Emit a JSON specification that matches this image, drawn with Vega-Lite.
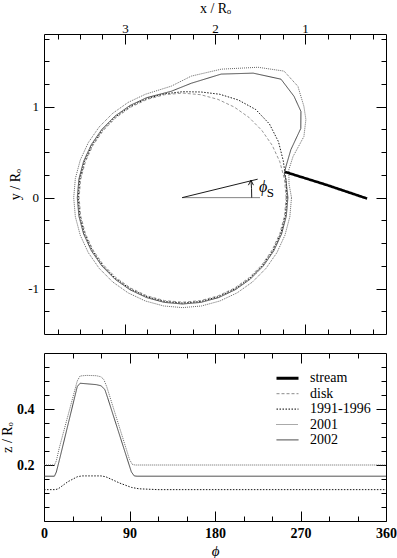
{
  "$schema": "https://vega.github.io/schema/vega-lite/v6.json",
  "padding": {"left": 0, "top": 0, "right": 0, "bottom": 0},
  "spacing": 17,
  "background": "white",
  "config": {
    "view": {"stroke": "black", "strokeWidth": 1},
    "axis": {"domain": false, "grid": false, "tickColor": "black", "tickWidth": 1, "labelFont": "Liberation Serif", "labelFontSize": 13, "labelColor": "black", "labelFlush": false, "labelOverlap": false, "labelBound": false, "titleFont": "Liberation Serif", "titleFontSize": 14, "titleFontWeight": "normal", "titleColor": "black"},
    "text": {"font": "Liberation Serif"}
  },
  "datasets": {
    "top": [
      {"series":"disk","ord":0,"x":1.21,"y":0},{"series":"disk","ord":10,"x":1.2275,"y":0.1996},{"series":"disk","ord":20,"x":1.2793,"y":0.3933},{"series":"disk","ord":30,"x":1.3641,"y":0.575},{"series":"disk","ord":40,"x":1.4791,"y":0.7392},{"series":"disk","ord":50,"x":1.6208,"y":0.8809},{"series":"disk","ord":60,"x":1.785,"y":0.9959},{"series":"disk","ord":70,"x":1.9667,"y":1.0807},{"series":"disk","ord":80,"x":2.1604,"y":1.1325},{"series":"disk","ord":90,"x":2.36,"y":1.15},{"series":"disk","ord":100,"x":2.5596,"y":1.1325},{"series":"disk","ord":110,"x":2.7533,"y":1.0807},{"series":"disk","ord":120,"x":2.935,"y":0.9959},{"series":"disk","ord":130,"x":3.0992,"y":0.8809},{"series":"disk","ord":140,"x":3.2409,"y":0.7392},{"series":"disk","ord":150,"x":3.3559,"y":0.575},{"series":"disk","ord":160,"x":3.4407,"y":0.3933},{"series":"disk","ord":170,"x":3.4925,"y":0.1996},{"series":"disk","ord":180,"x":3.51,"y":0},{"series":"disk","ord":190,"x":3.4925,"y":-0.1996},{"series":"disk","ord":200,"x":3.4407,"y":-0.3933},{"series":"disk","ord":210,"x":3.3559,"y":-0.575},{"series":"disk","ord":220,"x":3.2409,"y":-0.7392},{"series":"disk","ord":230,"x":3.0992,"y":-0.8809},{"series":"disk","ord":240,"x":2.935,"y":-0.9959},{"series":"disk","ord":250,"x":2.7533,"y":-1.0807},{"series":"disk","ord":260,"x":2.5596,"y":-1.1325},{"series":"disk","ord":270,"x":2.36,"y":-1.15},{"series":"disk","ord":280,"x":2.1604,"y":-1.1325},{"series":"disk","ord":290,"x":1.9667,"y":-1.0807},{"series":"disk","ord":300,"x":1.785,"y":-0.9959},{"series":"disk","ord":310,"x":1.6208,"y":-0.8809},{"series":"disk","ord":320,"x":1.4791,"y":-0.7392},{"series":"disk","ord":330,"x":1.3641,"y":-0.575},{"series":"disk","ord":340,"x":1.2793,"y":-0.3933},{"series":"disk","ord":350,"x":1.2275,"y":-0.1996},{"series":"disk","ord":360,"x":1.21,"y":0},

      {"series":"1991-1996","ord":0,"x":1.2,"y":0},{"series":"1991-1996","ord":10,"x":1.2127,"y":0.2022},{"series":"1991-1996","ord":20,"x":1.2418,"y":0.407},{"series":"1991-1996","ord":30,"x":1.2948,"y":0.615},{"series":"1991-1996","ord":40,"x":1.3948,"y":0.8099},{"series":"1991-1996","ord":50,"x":1.5469,"y":0.969},{"series":"1991-1996","ord":60,"x":1.74,"y":1.0738},{"series":"1991-1996","ord":70,"x":1.9462,"y":1.137},{"series":"1991-1996","ord":80,"x":2.1552,"y":1.1621},{"series":"1991-1996","ord":90,"x":2.36,"y":1.165},{"series":"1991-1996","ord":100,"x":2.5614,"y":1.1424},{"series":"1991-1996","ord":110,"x":2.7567,"y":1.09},{"series":"1991-1996","ord":120,"x":2.94,"y":1.0046},{"series":"1991-1996","ord":130,"x":3.1056,"y":0.8886},{"series":"1991-1996","ord":140,"x":3.2486,"y":0.7456},{"series":"1991-1996","ord":150,"x":3.3646,"y":0.58},{"series":"1991-1996","ord":160,"x":3.45,"y":0.3967},{"series":"1991-1996","ord":170,"x":3.5024,"y":0.2014},{"series":"1991-1996","ord":180,"x":3.52,"y":0},{"series":"1991-1996","ord":190,"x":3.5024,"y":-0.2014},{"series":"1991-1996","ord":200,"x":3.45,"y":-0.3967},{"series":"1991-1996","ord":210,"x":3.3646,"y":-0.58},{"series":"1991-1996","ord":220,"x":3.2486,"y":-0.7456},{"series":"1991-1996","ord":230,"x":3.1056,"y":-0.8886},{"series":"1991-1996","ord":240,"x":2.94,"y":-1.0046},{"series":"1991-1996","ord":250,"x":2.7567,"y":-1.09},{"series":"1991-1996","ord":260,"x":2.5614,"y":-1.1424},{"series":"1991-1996","ord":270,"x":2.36,"y":-1.16},{"series":"1991-1996","ord":280,"x":2.1586,"y":-1.1424},{"series":"1991-1996","ord":290,"x":1.9633,"y":-1.09},{"series":"1991-1996","ord":300,"x":1.78,"y":-1.0046},{"series":"1991-1996","ord":310,"x":1.6144,"y":-0.8886},{"series":"1991-1996","ord":320,"x":1.4714,"y":-0.7456},{"series":"1991-1996","ord":330,"x":1.3554,"y":-0.58},{"series":"1991-1996","ord":340,"x":1.27,"y":-0.3967},{"series":"1991-1996","ord":350,"x":1.2176,"y":-0.2014},{"series":"1991-1996","ord":360,"x":1.2,"y":0},

      {"series":"2002","ord":0,"x":1.19,"y":0},{"series":"2002","ord":10,"x":1.2127,"y":0.2022},{"series":"2002","ord":13.1,"x":1.2302,"y":0.263},{"series":"2002","ord":16.5,"x":1.2123,"y":0.34},{"series":"2002","ord":23.7,"x":1.1568,"y":0.5281},{"series":"2002","ord":30.1,"x":1.0466,"y":0.7613},{"series":"2002","ord":35.8,"x":1.0452,"y":0.9483},{"series":"2002","ord":42,"x":1.122,"y":1.1147},{"series":"2002","ord":50,"x":1.2666,"y":1.303},{"series":"2002","ord":60.2,"x":1.5757,"y":1.3694},{"series":"2002","ord":72.5,"x":1.9315,"y":1.359},{"series":"2002","ord":85.6,"x":2.2632,"y":1.2583},{"series":"2002","ord":96.1,"x":2.4851,"y":1.1703},{"series":"2002","ord":110,"x":2.7601,"y":1.0994},{"series":"2002","ord":120,"x":2.945,"y":1.0132},{"series":"2002","ord":130,"x":3.1121,"y":0.8962},{"series":"2002","ord":140,"x":3.2562,"y":0.7521},{"series":"2002","ord":150,"x":3.3732,"y":0.585},{"series":"2002","ord":160,"x":3.4594,"y":0.4001},{"series":"2002","ord":170,"x":3.5122,"y":0.2031},{"series":"2002","ord":180,"x":3.53,"y":0},{"series":"2002","ord":190,"x":3.5122,"y":-0.2031},{"series":"2002","ord":200,"x":3.4594,"y":-0.4001},{"series":"2002","ord":210,"x":3.3732,"y":-0.585},{"series":"2002","ord":220,"x":3.2562,"y":-0.7521},{"series":"2002","ord":230,"x":3.1121,"y":-0.8962},{"series":"2002","ord":240,"x":2.945,"y":-1.0132},{"series":"2002","ord":250,"x":2.7601,"y":-1.0994},{"series":"2002","ord":260,"x":2.5631,"y":-1.1522},{"series":"2002","ord":270,"x":2.36,"y":-1.17},{"series":"2002","ord":280,"x":2.1569,"y":-1.1522},{"series":"2002","ord":290,"x":1.9599,"y":-1.0994},{"series":"2002","ord":300,"x":1.775,"y":-1.0132},{"series":"2002","ord":310,"x":1.6079,"y":-0.8962},{"series":"2002","ord":320,"x":1.4638,"y":-0.7521},{"series":"2002","ord":330,"x":1.3468,"y":-0.585},{"series":"2002","ord":340,"x":1.2606,"y":-0.4001},{"series":"2002","ord":350,"x":1.2078,"y":-0.2031},{"series":"2002","ord":360,"x":1.19,"y":0},

      {"series":"2001","ord":0,"x":1.15,"y":0},{"series":"2001","ord":7.3,"x":1.1777,"y":0.1515},{"series":"2001","ord":14.6,"x":1.1794,"y":0.3076},{"series":"2001","ord":20.2,"x":1.1334,"y":0.4513},{"series":"2001","ord":26.5,"x":1.0123,"y":0.672},{"series":"2001","ord":32.1,"x":0.9902,"y":0.8593},{"series":"2001","ord":36.7,"x":1.0122,"y":1.0046},{"series":"2001","ord":43.7,"x":1.0788,"y":1.2243},{"series":"2001","ord":51,"x":1.2329,"y":1.3918},{"series":"2001","ord":59.7,"x":1.522,"y":1.4341},{"series":"2001","ord":73.1,"x":1.9306,"y":1.4132},{"series":"2001","ord":85.9,"x":2.2642,"y":1.3365},{"series":"2001","ord":95.8,"x":2.4847,"y":1.2267},{"series":"2001","ord":110,"x":2.7738,"y":1.137},{"series":"2001","ord":120,"x":2.965,"y":1.0479},{"series":"2001","ord":130,"x":3.1378,"y":0.9268},{"series":"2001","ord":140,"x":3.2868,"y":0.7778},{"series":"2001","ord":150,"x":3.4079,"y":0.605},{"series":"2001","ord":160,"x":3.497,"y":0.4138},{"series":"2001","ord":170,"x":3.5516,"y":0.2101},{"series":"2001","ord":180,"x":3.57,"y":0},{"series":"2001","ord":190,"x":3.5516,"y":-0.2101},{"series":"2001","ord":200,"x":3.497,"y":-0.4138},{"series":"2001","ord":210,"x":3.4079,"y":-0.605},{"series":"2001","ord":220,"x":3.2868,"y":-0.7778},{"series":"2001","ord":230,"x":3.1378,"y":-0.9268},{"series":"2001","ord":240,"x":2.965,"y":-1.0479},{"series":"2001","ord":250,"x":2.7738,"y":-1.137},{"series":"2001","ord":260,"x":2.5701,"y":-1.1916},{"series":"2001","ord":270,"x":2.36,"y":-1.21},{"series":"2001","ord":280,"x":2.1499,"y":-1.1916},{"series":"2001","ord":290,"x":1.9462,"y":-1.137},{"series":"2001","ord":300,"x":1.755,"y":-1.0479},{"series":"2001","ord":310,"x":1.5822,"y":-0.9268},{"series":"2001","ord":320,"x":1.4332,"y":-0.7778},{"series":"2001","ord":330,"x":1.3121,"y":-0.605},{"series":"2001","ord":340,"x":1.223,"y":-0.4138},{"series":"2001","ord":350,"x":1.1684,"y":-0.2101},{"series":"2001","ord":360,"x":1.15,"y":0}
    ],
    "stream": [
      {"series":"stream","ord":0,"x":1.222,"y":0.283},
      {"series":"stream","ord":1,"x":0.77,"y":0.143},
      {"series":"stream","ord":2,"x":0.31,"y":-0.01}
    ],
    "marker": [
      {"seg":"ray","ord":0,"x":2.365,"y":0},{"seg":"ray","ord":1,"x":1.526,"y":0.203},
      {"seg":"arc","ord":0,"x":1.592,"y":0},{"seg":"arc","ord":1,"x":1.594,"y":0.1},{"seg":"arc","ord":2,"x":1.6,"y":0.19},
      {"seg":"head","ord":0,"x":1.629,"y":0.137},{"seg":"head","ord":1,"x":1.6,"y":0.192},{"seg":"head","ord":2,"x":1.573,"y":0.137}
    ],
    "base": [
      {"ord":0,"x":2.365,"y":0},{"ord":1,"x":1.5,"y":0}
    ],
    "labels": [
      {"t":"ϕ","x":1.464,"y":0.118}
    ],
    "sub": [
      {"t":"S","x":1.385,"y":0.055}
    ],
    "bottom": [
      {"series":"2001","phi":0,"z":0.2},{"series":"2001","phi":11,"z":0.2},{"series":"2001","phi":13,"z":0.215},{"series":"2001","phi":16,"z":0.26},{"series":"2001","phi":35,"z":0.5},{"series":"2001","phi":38,"z":0.518},{"series":"2001","phi":45,"z":0.52},{"series":"2001","phi":55,"z":0.519},{"series":"2001","phi":60,"z":0.515},{"series":"2001","phi":63,"z":0.505},{"series":"2001","phi":66,"z":0.48},{"series":"2001","phi":90,"z":0.22},{"series":"2001","phi":93,"z":0.202},{"series":"2001","phi":96,"z":0.2},{"series":"2001","phi":360,"z":0.2},
      {"series":"2002","phi":0,"z":0.16},{"series":"2002","phi":11,"z":0.16},{"series":"2002","phi":13,"z":0.175},{"series":"2002","phi":16,"z":0.215},{"series":"2002","phi":35,"z":0.48},{"series":"2002","phi":38,"z":0.492},{"series":"2002","phi":45,"z":0.49},{"series":"2002","phi":55,"z":0.487},{"series":"2002","phi":60,"z":0.483},{"series":"2002","phi":64,"z":0.47},{"series":"2002","phi":67,"z":0.44},{"series":"2002","phi":92,"z":0.175},{"series":"2002","phi":95,"z":0.161},{"series":"2002","phi":98,"z":0.16},{"series":"2002","phi":360,"z":0.16},
      {"series":"1991-1996","phi":0,"z":0.112},{"series":"1991-1996","phi":12,"z":0.112},{"series":"1991-1996","phi":15,"z":0.115},{"series":"1991-1996","phi":25,"z":0.14},{"series":"1991-1996","phi":35,"z":0.158},{"series":"1991-1996","phi":40,"z":0.161},{"series":"1991-1996","phi":60,"z":0.161},{"series":"1991-1996","phi":65,"z":0.158},{"series":"1991-1996","phi":80,"z":0.135},{"series":"1991-1996","phi":92,"z":0.12},{"series":"1991-1996","phi":100,"z":0.115},{"series":"1991-1996","phi":120,"z":0.112},{"series":"1991-1996","phi":360,"z":0.112}
    ]
  },
  "vconcat": [
    {
      "width": 342,
      "height": 300,
      "resolve": {"axis": {"x": "independent", "y": "independent"}},
      "layer": [
        {
          "data": {"name": "top"},
          "mark": {"type": "line", "strokeWidth": 0.9},
          "encoding": {
            "x": {"field": "x", "type": "quantitative", "scale": {"domain": [0.1, 3.9], "reverse": true, "nice": false, "zero": false},
              "axis": {"orient": "top", "values": [3.75,3.5,3.25,3,2.75,2.5,2.25,2,1.75,1.5,1.25,1,0.75,0.5,0.25], "labelExpr": "datum.value % 1 === 0 ? '' + datum.value : ''", "tickSize": {"condition": {"test": "datum.value % 1 === 0", "value": -10}, "value": -5}, "labelPadding": 9, "title": "x / Rₒ", "titlePadding": 2}},
            "y": {"field": "y", "type": "quantitative", "scale": {"domain": [-1.5, 1.8], "nice": false, "zero": false},
              "axis": {"orient": "left", "values": [1.75,1.5,1.25,1,0.75,0.5,0.25,0,-0.25,-0.5,-0.75,-1,-1.25], "labelExpr": "datum.value % 1 === 0 ? '' + datum.value : ''", "tickSize": {"condition": {"test": "datum.value % 1 === 0", "value": -10}, "value": -5}, "labelPadding": 15.5, "title": "y / Rₒ", "titlePadding": 5}},
            "order": {"field": "ord", "type": "quantitative"},
            "color": {"field": "series", "type": "nominal", "scale": {"domain": ["stream","disk","1991-1996","2001","2002"], "range": ["#000000","#8a8a8a","#000000","#555555","#333333"]}},
            "strokeDash": {"field": "series", "type": "nominal", "scale": {"domain": ["stream","disk","1991-1996","2001","2002"], "range": [[1,0],[3,2],[1.5,1.5],[1,1],[1,0]]}}
          }
        },
        {
          "data": {"name": "stream"},
          "mark": {"type": "line", "strokeWidth": 2.6},
          "encoding": {
            "x": {"field": "x", "type": "quantitative",
              "axis": {"orient": "bottom", "values": [3.75,3.5,3.25,3,2.75,2.5,2.25,2,1.75,1.5,1.25,1,0.75,0.5,0.25], "labels": false, "tickSize": {"condition": {"test": "datum.value % 1 === 0", "value": -10}, "value": -5}, "title": null}},
            "y": {"field": "y", "type": "quantitative",
              "axis": {"orient": "right", "values": [1.75,1.5,1.25,1,0.75,0.5,0.25,0,-0.25,-0.5,-0.75,-1,-1.25], "labels": false, "tickSize": {"condition": {"test": "datum.value % 1 === 0", "value": -10}, "value": -5}, "title": null}},
            "order": {"field": "ord", "type": "quantitative"},
            "color": {"field": "series", "type": "nominal"},
            "strokeDash": {"field": "series", "type": "nominal"}
          }
        },
        {
          "data": {"name": "base"},
          "mark": {"type": "line", "strokeWidth": 0.9, "color": "#777777"},
          "encoding": {
            "x": {"field": "x", "type": "quantitative", "axis": null},
            "y": {"field": "y", "type": "quantitative", "axis": null},
            "order": {"field": "ord", "type": "quantitative"}
          }
        },
        {
          "data": {"name": "marker"},
          "mark": {"type": "line", "strokeWidth": 0.9, "color": "#000000"},
          "encoding": {
            "x": {"field": "x", "type": "quantitative", "axis": null},
            "y": {"field": "y", "type": "quantitative", "axis": null},
            "detail": {"field": "seg", "type": "nominal"},
            "order": {"field": "ord", "type": "quantitative"}
          }
        },
        {
          "data": {"name": "labels"},
          "mark": {"type": "text", "fontSize": 16, "fontStyle": "italic", "font": "Liberation Serif", "color": "black"},
          "encoding": {
            "x": {"field": "x", "type": "quantitative", "axis": null},
            "y": {"field": "y", "type": "quantitative", "axis": null},
            "text": {"field": "t"}
          }
        },
        {
          "data": {"name": "sub"},
          "mark": {"type": "text", "fontSize": 13, "font": "Liberation Serif", "color": "black"},
          "encoding": {
            "x": {"field": "x", "type": "quantitative", "axis": null},
            "y": {"field": "y", "type": "quantitative", "axis": null},
            "text": {"field": "t"}
          }
        }
      ]
    },
    {
      "width": 342,
      "height": 168,
      "resolve": {"axis": {"x": "independent", "y": "independent"}},
      "data": {"name": "bottom"},
      "layer": [
        {
          "mark": {"type": "line", "strokeWidth": 0.9},
          "encoding": {
            "x": {"field": "phi", "type": "quantitative", "scale": {"domain": [0, 360], "nice": false, "zero": false},
              "axis": {"orient": "bottom", "values": [0,30,60,90,120,150,180,210,240,270,300,330,360], "labelExpr": "datum.value % 90 === 0 ? '' + datum.value : ''", "tickSize": {"condition": {"test": "datum.value % 90 === 0", "value": -10}, "value": -5}, "labelPadding": 15, "labelFontSize": 14, "labelFontWeight": "bold", "title": "ϕ", "titleFontStyle": "italic", "titleFontSize": 15, "titlePadding": -2}},
            "y": {"field": "z", "type": "quantitative", "scale": {"domain": [0, 0.6], "nice": false, "zero": false},
              "axis": {"orient": "left", "values": [0.05,0.1,0.15,0.2,0.25,0.3,0.35,0.4,0.45,0.5,0.55], "labelExpr": "(abs(datum.value-0.2)<0.001 || abs(datum.value-0.4)<0.001) ? '' + datum.value : ''", "tickSize": {"condition": {"test": "abs(datum.value-0.2)<0.001 || abs(datum.value-0.4)<0.001", "value": -10}, "value": -5}, "labelPadding": 20, "labelFontSize": 14, "labelFontWeight": "bold", "title": "z / Rₒ", "titlePadding": 2}},
            "order": {"field": "phi", "type": "quantitative"},
            "color": {"field": "series", "type": "nominal",
              "legend": {"orient": "none", "legendX": 236.5, "legendY": 337.3, "title": null, "symbolType": "M-2.2,0H2.2", "symbolSize": 100, "symbolStrokeWidth": {"expr": "datum.value === 'stream' ? 3 : 1"}, "labelFont": "Liberation Serif", "labelFontSize": 14, "labelColor": "black", "labelOffset": 15.5, "rowPadding": 1.4, "padding": 0}},
            "strokeDash": {"field": "series", "type": "nominal",
              "legend": {"orient": "none", "legendX": 236.5, "legendY": 337.3, "title": null, "symbolType": "M-2.2,0H2.2", "symbolSize": 100, "symbolStrokeWidth": {"expr": "datum.value === 'stream' ? 3 : 1"}, "labelFont": "Liberation Serif", "labelFontSize": 14, "labelColor": "black", "labelOffset": 15.5, "rowPadding": 1.4, "padding": 0}}
          }
        },
        {
          "mark": {"type": "line", "strokeWidth": 0, "opacity": 0},
          "encoding": {
            "x": {"field": "phi", "type": "quantitative",
              "axis": {"orient": "top", "values": [30,60,90,120,150,180,210,240,270,300,330], "labels": false, "tickSize": {"condition": {"test": "datum.value % 90 === 0", "value": -10}, "value": -5}, "title": null}},
            "y": {"field": "z", "type": "quantitative",
              "axis": {"orient": "right", "values": [0.05,0.1,0.15,0.2,0.25,0.3,0.35,0.4,0.45,0.5,0.55], "labels": false, "tickSize": {"condition": {"test": "abs(datum.value-0.2)<0.001 || abs(datum.value-0.4)<0.001", "value": -10}, "value": -5}, "title": null}},
            "detail": {"field": "series", "type": "nominal"},
            "order": {"field": "phi", "type": "quantitative"}
          }
        }
      ]
    }
  ]
}
